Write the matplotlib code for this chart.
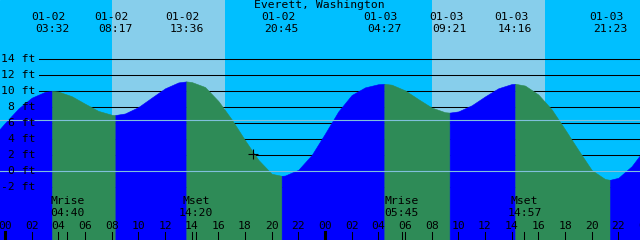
import numpy as np
import matplotlib.pyplot as plt
from matplotlib.transforms import blended_transform_factory

# tide height (hours after 01-02 00:00, feet)
hours = [-1, 0, 1, 2, 3, 3.53, 4, 5, 6, 7, 8, 8.28, 9, 10, 11, 12, 13, 13.6,
         14, 15, 16, 17, 18, 19, 20, 20.75, 21, 22, 23, 24, 25, 26, 27, 28, 28.45,
         29, 30, 31, 32, 33, 33.35, 34, 35, 36, 37, 38, 38.27, 39, 40, 41, 42,
         43, 44, 45, 45.38, 46, 47, 48]
heights = [4.1, 6.0, 7.8, 9.16, 9.89, 10.0, 9.93, 9.35, 8.41, 7.51, 7.03, 7.0, 7.19,
           7.99, 9.17, 10.33, 11.07, 11.2, 11.12, 10.5, 8.75, 6.45, 3.85, 1.4, -0.35,
           -0.6, -0.57, 0.15, 2.0, 4.67, 7.45, 9.5, 10.45, 10.85, 10.9, 10.79, 10.08,
           8.98, 7.93, 7.35, 7.3, 7.45, 8.21, 9.32, 10.34, 10.87, 10.9, 10.68, 9.56,
           7.7, 5.2, 2.62, 0.12, -1.0, -1.1, -0.85, 0.6, 2.8]

# high / low tides
event_hours = [3.53, 8.28, 13.6, 20.75, 28.45, 33.35, 38.27, 45.38]
event_dates = ["01-02", "01-02", "01-02", "01-02", "01-03", "01-03", "01-03", "01-03"]
event_times = ["03:32", "08:17", "13:36", "20:45", "04:27", "09:21", "14:16", "21:23"]

# sunrise / sunset
daylight = [(8.03, 16.5), (32.03, 40.5)]

# moon
moon_hours = [4.67, 14.33, 29.75, 38.95]
moon_names = ["Mrise", "Mset", "Mrise", "Mset"]
moon_times = ["04:40", "14:20", "05:45", "14:57"]

now_hour, now_height = 18.6, 2.1
mean_level = 6.4
ft_levels = list(range(-2, 16, 2))

px = 640 / 48.0          # pixels per hour
x0, x1 = -5 / px, 635 / px
y_top, y_bot = 171 / 8.0, -69 / 8.0


def ypx(p):
    return y_top - p / 8.0


fig = plt.figure(figsize=(6.4, 2.4), dpi=100)
ax = fig.add_axes([0, 0, 1, 1])
ax.set_xlim(x0, x1)
ax.set_ylim(y_bot, y_top)
ax.axis("off")
ax.add_patch(plt.Rectangle((x0, y_bot), x1 - x0, y_top - y_bot, color="#00bfff", zorder=0))
for a, b in daylight:
    ax.axvspan(a, b, color="#87ceeb", lw=0, zorder=0.5)

for lv in ft_levels:
    ax.axhline(lv, xmin=39 / 640, color="black", lw=0.75, zorder=1)

t = np.array(hours)
h = np.array(heights)
bounds = [-99] + event_hours + [99]
for i in range(len(bounds) - 1):
    m = (t >= bounds[i] - 1e-6) & (t <= bounds[i + 1] + 1e-6)
    col = "#0000ff" if h[m][-1] > h[m][0] else "#2e8b57"
    ax.fill_between(t[m], h[m], y_bot, color=col, lw=0.4, ec=col, zorder=2)

ax.axhline(mean_level, color="#80c0dc", lw=0.8, zorder=3)
ax.axhline(0, color="#80c0dc", lw=0.8, zorder=3)

font = dict(family="DejaVu Sans Mono", fontsize=8.2, color="black", zorder=5)
tr = blended_transform_factory(ax.transAxes, ax.transData)
for lv in ft_levels:
    ax.text(35 / 640, lv, f"{lv} ft", ha="right", va="center", transform=tr, **font)

ax.text(319.5 / 640, ypx(5.5), "Everett, Washington", ha="center", va="center",
        transform=tr, **font)
for eh, d, tm in zip(event_hours, event_dates, event_times):
    ax.text(eh - 3.5 / px, ypx(17), d, ha="center", va="center", **font)
    ax.text(eh, ypx(29.5), tm, ha="center", va="center", **font)

for mh, nm, tm in zip(moon_hours, moon_names, moon_times):
    ax.text(mh, ypx(201.5), nm, ha="center", va="center", **font)
    ax.text(mh, ypx(213.5), tm, ha="center", va="center", **font)
    ax.plot([mh, mh], [ypx(232), ypx(240)], color="black", lw=0.75, zorder=4)

for hr in range(0, 50, 2):
    ax.text(hr, ypx(226), f"{hr % 24:02d}", ha="center", va="center", **font)
    lw = 2.2 if hr % 24 == 0 else 0.75
    ax.plot([hr, hr], [ypx(232), ypx(240)], color="black", lw=lw, zorder=4)

ax.plot(now_hour, now_height, marker="+", color="black", ms=6.5, mew=0.8, zorder=5)

fig.savefig("out.png", dpi=100)
